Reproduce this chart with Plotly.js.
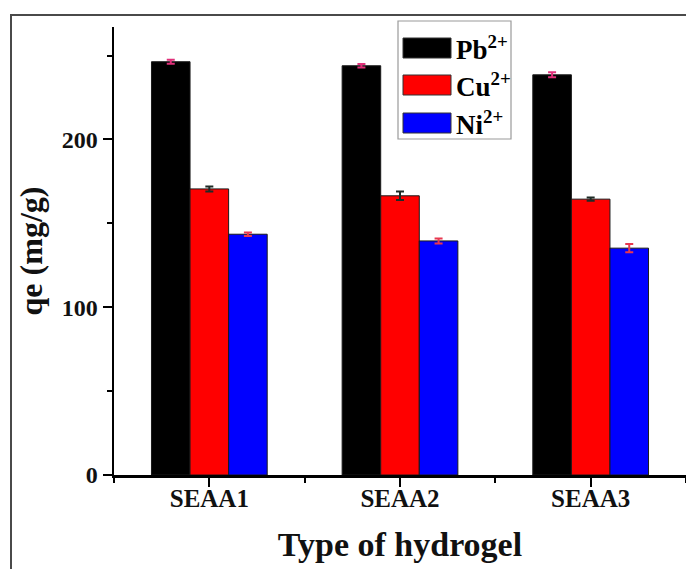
<!DOCTYPE html>
<html>
<head>
<meta charset="utf-8">
<script src="https://cdn.plot.ly/plotly-3.0.1.min.js"></script>
<style>
  html, body { margin: 0; padding: 0; background: #fff; }
  #chart { width: 686px; height: 569px; }
</style>
</head>
<body>
<div id="chart"></div>
<script>
// Adsorption capacity of each hydrogel for three metal ions
const categories = ['SEAA1', 'SEAA2', 'SEAA3'];
const ionNames = ['Pb<sup>2+</sup>', 'Cu<sup>2+</sup>', 'Ni<sup>2+</sup>'];
const pbValues = [246.3, 243.9, 238.5];
const cuValues = [170.5, 166.4, 164.4];
const niValues = [143.5, 139.5, 135.2];
const pbErrors = [1.2, 1.0, 1.5];
const cuErrors = [1.5, 2.5, 1.0];
const niErrors = [1.0, 1.5, 2.5];

const barColors = ['#000000', '#ff0000', '#0000ff'];
const errColors = ['#e0307a', '#1e2b26', '#e8384f'];

const serif = 'Liberation Serif, Times New Roman, serif';

// plot-area geometry in pixels (used to place the frame and legend)
const W = 686, H = 569;
const M = { l: 114, r: 0, t: 27, b: 94 };
const pw = W - M.l - M.r, ph = H - M.t - M.b;
const px = x => (x - M.l) / pw;
const py = y => (H - M.b - y) / ph;

const xIdx = categories.map((_, i) => i);
const seriesVals = [pbValues, cuValues, niValues];
const seriesErrs = [pbErrors, cuErrors, niErrors];

const traces = seriesVals.map((vals, k) => ({
  type: 'bar',
  name: ionNames[k],
  x: xIdx,
  y: vals,
  marker: { color: barColors[k], line: { color: '#1a1a1a', width: 1 } },
  error_y: { type: 'data', array: seriesErrs[k], color: errColors[k], thickness: 2, width: 4 },
  showlegend: false,
  hoverinfo: 'x+y'
}));

// outer frame and a hand-built legend with large swatches
const shapes = [
  { type: 'path', xref: 'paper', yref: 'paper',
    path: `M ${px(11)} ${py(H + 20)} L ${px(11)} ${py(15)} L ${px(W + 20)} ${py(15)}`,
    line: { color: '#4a4a4a', width: 2 } },
  { type: 'rect', xref: 'paper', yref: 'paper',
    x0: px(398), x1: px(511), y0: py(139), y1: py(21),
    line: { color: '#9a9a9a', width: 1.2 }, fillcolor: 'rgba(255,255,255,0)' }
];
const annotations = [];
const swatchTops = [38, 75, 113];
swatchTops.forEach((top, k) => {
  shapes.push({ type: 'rect', xref: 'paper', yref: 'paper',
    x0: px(403), x1: px(451), y0: py(top + 20), y1: py(top),
    fillcolor: barColors[k], line: { color: '#333', width: 1 } });
  annotations.push({ xref: 'paper', yref: 'paper', x: px(454), y: py(top + 10),
    xanchor: 'left', yanchor: 'middle', showarrow: false,
    text: ionNames[k],
    font: { family: serif, size: 27, color: '#000', weight: 'bold' } });
});

const layout = {
  width: W, height: H,
  margin: M,
  paper_bgcolor: '#fff', plot_bgcolor: '#fff',
  barmode: 'group', bargap: 0.393, bargroupgap: 0,
  showlegend: false,
  xaxis: {
    range: [-0.5, 2.5],
    tickvals: xIdx, ticktext: categories,
    showline: true, linecolor: '#000', linewidth: 2.5,
    ticks: 'outside', ticklen: 9, tickwidth: 2, tickcolor: '#000',
    minor: { dtick: 0.5, tick0: 0.5, ticks: 'outside', ticklen: 5, tickwidth: 2, tickcolor: '#000' },
    showgrid: false, zeroline: false,
    ticklabelstandoff: -10,
    tickfont: { family: serif, size: 25, color: '#111', weight: 'bold' },
    title: { text: 'Type of hydrogel', standoff: 22,
      font: { family: serif, size: 34, color: '#111', weight: 'bold' } }
  },
  yaxis: {
    range: [0, 267],
    tickvals: [0, 100, 200],
    showline: true, linecolor: '#000', linewidth: 2.5,
    ticks: 'outside', ticklen: 9, tickwidth: 2, tickcolor: '#000',
    minor: { dtick: 50, ticks: 'outside', ticklen: 5, tickwidth: 2, tickcolor: '#000' },
    showgrid: false, zeroline: false,
    tickfont: { family: serif, size: 24, color: '#111', weight: 'bold' },
    title: { text: 'qe (mg/g)', standoff: 10,
      font: { family: serif, size: 32, color: '#111', weight: 'bold' } }
  },
  shapes: shapes,
  annotations: annotations
};

Plotly.newPlot('chart', traces, layout, { displayModeBar: false, staticPlot: true });
</script>
</body>
</html>
